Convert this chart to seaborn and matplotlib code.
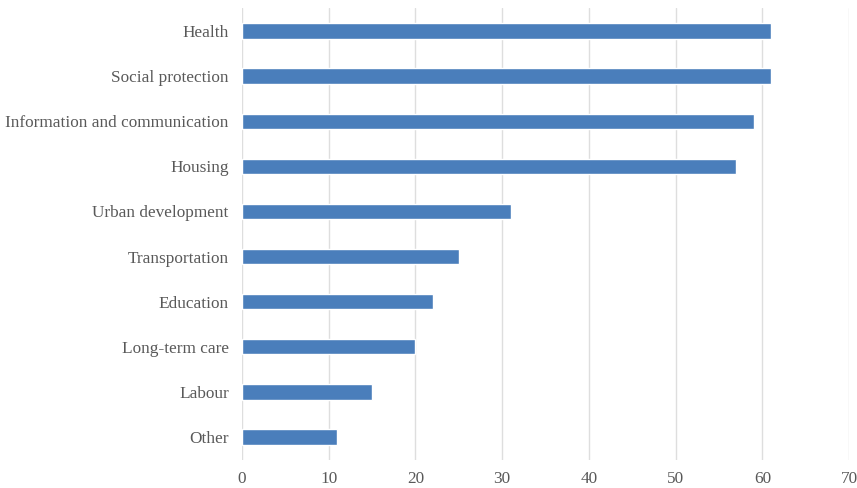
import pandas as pd
import seaborn as sns
import matplotlib.pyplot as plt

# Values
categories = ["Health", "Social protection", "Information and communication", "Housing",
              "Urban development", "Transportation", "Education", "Long-term care",
              "Labour", "Other"]
values = [61, 61, 59, 57, 31, 25, 22, 20, 15, 11]
x_ticks = [0, 10, 20, 30, 40, 50, 60, 70]

df = pd.DataFrame({"category": categories, "value": values})

sns.set_style("white")
plt.rcParams["font.family"] = ["Liberation Serif", "DejaVu Serif"]

fig = plt.figure(figsize=(8.57, 4.88), dpi=100)
ax = fig.add_axes([0.2824, 0.0584, 0.7083, 0.9243])

sns.barplot(data=df, x="value", y="category", color="#4a7ebb", saturation=1,
            width=0.34, ax=ax)

ax.set_xlim(0, 70)
ax.set_xticks(x_ticks)
ax.set_ylim(9.5, -0.5)
ax.grid(axis="x", color="#dedede", linewidth=1)
ax.set_axisbelow(True)
for s in ax.spines.values():
    s.set_visible(False)
ax.tick_params(axis="both", length=0, labelsize=12.4, labelcolor="#595959")
ax.tick_params(axis="y", pad=9.5)
ax.tick_params(axis="x", pad=8)
ax.set_xlabel("")
ax.set_ylabel("")

fig.savefig("out.png", dpi=100)
